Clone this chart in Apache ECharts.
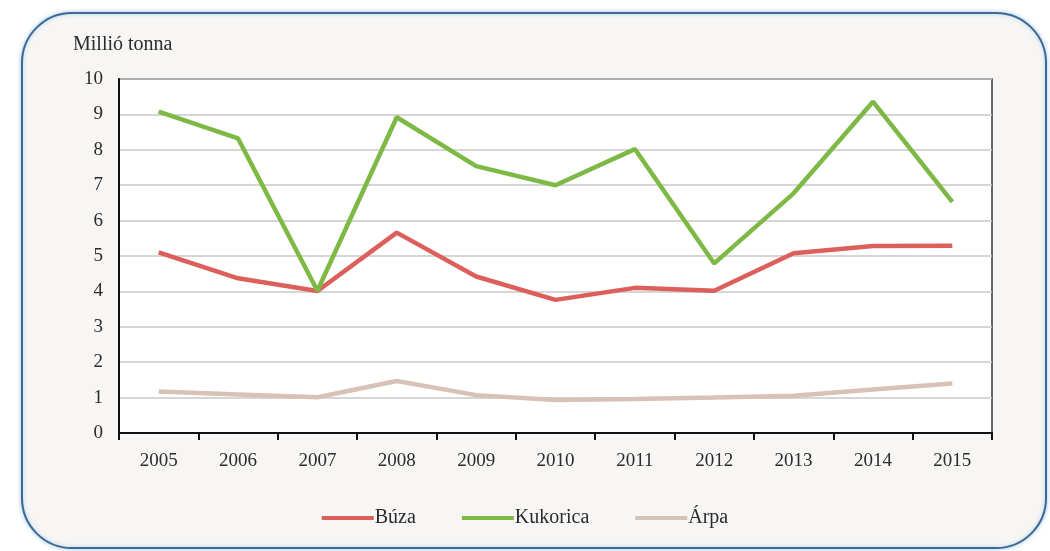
<!DOCTYPE html>
<html>
<head>
<meta charset="utf-8">
<script src="https://cdn.jsdelivr.net/npm/echarts@6/dist/echarts.min.js"></script>
<style>
  html, body { margin: 0; padding: 0; background: #ffffff; }
  #chart { width: 1050px; height: 551px; }
</style>
</head>
<body>
<div id="chart"></div>
<script>
// Éves termésmennyiség, millió tonna
const years = ['2005', '2006', '2007', '2008', '2009', '2010', '2011', '2012', '2013', '2014', '2015'];
const buza = [5.10, 4.37, 4.01, 5.66, 4.42, 3.76, 4.10, 4.02, 5.08, 5.28, 5.29];
const kukorica = [9.08, 8.32, 4.02, 8.92, 7.54, 7.00, 8.02, 4.79, 6.77, 9.36, 6.53];
const arpa = [1.17, 1.09, 1.01, 1.47, 1.07, 0.93, 0.96, 1.00, 1.05, 1.23, 1.40];
const seriesNames = ['Búza', 'Kukorica', 'Árpa'];
const yTicks = { min: 0, max: 10, interval: 1 };

const FONT = '"Liberation Serif", "DejaVu Serif", serif';
const TEXT = '#2b2b2b';
const colors = ['#dc5f5c', '#7db944', '#d8c1b5'];

const chart = echarts.init(document.getElementById('chart'), null, { renderer: 'canvas' });

const mkLine = (name, data, color) => ({
  name: name,
  type: 'line',
  data: data,
  symbol: 'none',
  smooth: false,
  lineStyle: { color: color, width: 4.5 },
  itemStyle: { color: color },
  emphasis: { disabled: true }
});

chart.setOption({
  backgroundColor: '#ffffff',
  animation: false,
  textStyle: { fontFamily: FONT, color: TEXT },
  graphic: [
    {
      type: 'rect',
      z: -10,
      silent: true,
      shape: { x: 22, y: 13, width: 1024, height: 535, r: 50 },
      style: {
        fill: '#f7f6f4',
        stroke: '#3b6a96',
        lineWidth: 2,
        shadowBlur: 4,
        shadowColor: 'rgba(120,170,220,0.6)'
      }
    },
    {
      type: 'text',
      left: 73,
      top: 35,
      silent: true,
      style: { text: 'Millió tonna', font: '20px ' + FONT, fill: TEXT }
    }
  ],
  grid: {
    left: 119,
    right: 58,
    top: 79,
    bottom: 118,
    show: true,
    backgroundColor: '#ffffff',
    borderColor: '#333333',
    borderWidth: 1.5
  },
  legend: {
    data: seriesNames,
    bottom: 18,
    left: 'center',
    itemWidth: 52,
    itemHeight: 4,
    itemGap: 46,
    icon: 'rect',
    textStyle: { fontFamily: FONT, fontSize: 20, color: TEXT, padding: [0, 0, 0, -4] }
  },
  xAxis: {
    type: 'category',
    data: years,
    boundaryGap: true,
    axisLine: { show: true, onZero: false, lineStyle: { color: '#111111', width: 2 } },
    axisTick: { show: true, length: 7, lineStyle: { color: '#111111', width: 2 } },
    axisLabel: { fontFamily: FONT, fontSize: 19, color: TEXT, margin: 19 },
    splitLine: { show: false }
  },
  yAxis: {
    type: 'value',
    min: yTicks.min,
    max: yTicks.max,
    interval: yTicks.interval,
    axisLine: { show: true, lineStyle: { color: '#111111', width: 2 } },
    axisTick: { show: false },
    axisLabel: { fontFamily: FONT, fontSize: 19, color: TEXT, margin: 16 },
    splitLine: { show: true, lineStyle: { color: '#c9c9c9', width: 1.5 } }
  },
  series: [
    mkLine(seriesNames[0], buza, colors[0]),
    mkLine(seriesNames[1], kukorica, colors[1]),
    mkLine(seriesNames[2], arpa, colors[2])
  ]
});
</script>
</body>
</html>
